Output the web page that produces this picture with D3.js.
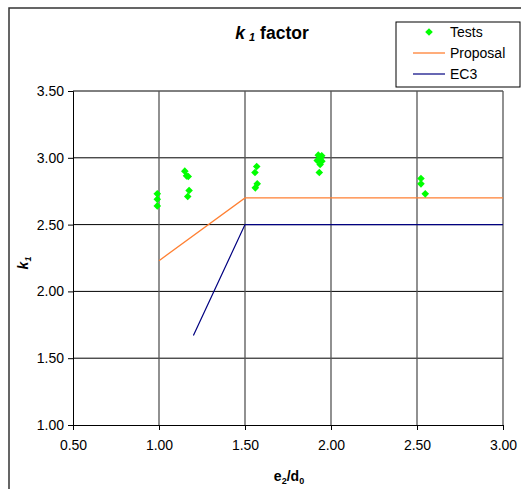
<!DOCTYPE html>
<html>
<head>
	<meta charset="utf-8">
	<script src="https://d3js.org/d3.v7.min.js"></script>
	<style>
		body { margin: 0; background: #fff; }
		text { font-family: "Liberation Sans", Arial, sans-serif; fill: #000; }
	</style>
</head>
<body>
	<div id="chart"></div>
	<script>

	// test results (e2/d0, k1)
	const testX = [0.99, 0.99, 0.99, 1.15, 1.16, 1.17, 1.175, 1.167,
		1.568, 1.558, 1.571, 1.56, 1.926, 1.946, 1.92, 1.947, 1.937, 1.932, 1.94,
		2.523, 2.523, 2.548]
	const testY = [2.73, 2.69, 2.64, 2.90, 2.865, 2.86, 2.755, 2.71,
		2.935, 2.89, 2.805, 2.775, 3.02, 3.015, 2.98, 2.975, 2.95, 2.89, 3.00,
		2.845, 2.805, 2.73]

	// design curves
	const proposalX = [1.0, 1.5, 3.0]
	const proposalY = [2.23, 2.70, 2.70]
	const ec3X = [1.2, 1.5, 3.0]
	const ec3Y = [1.67, 2.50, 2.50]

	const xTicks = [0.5, 1.0, 1.5, 2.0, 2.5, 3.0]
	const yTicks = [1.0, 1.5, 2.0, 2.5, 3.0, 3.5]

	const width = 521
	const height = 489

	const svg = d3.select("#chart")
	  .append("svg")
	    .attr("width", width)
	    .attr("height", height)

	// outer chart frame
	svg.append("rect")
	    .attr("x", 9).attr("y", 8)
	    .attr("width", 530).attr("height", 500)
	    .attr("fill", "none")
	    .attr("stroke", "#333")
	    .attr("stroke-width", 1.5)

	const x = d3.scaleLinear().domain([0.5, 3.0]).range([73, 503])
	const y = d3.scaleLinear().domain([1.0, 3.5]).range([425, 91])

	// gridlines
	svg.append("g")
	  .selectAll("line")
	  .data(yTicks.slice(1))
	  .join("line")
	    .attr("x1", x(0.5)).attr("x2", x(3.0))
	    .attr("y1", d => y(d)).attr("y2", d => y(d))
	    .attr("stroke", "#000")
	svg.append("g")
	  .selectAll("line")
	  .data(xTicks.slice(1))
	  .join("line")
	    .attr("x1", d => x(d)).attr("x2", d => x(d))
	    .attr("y1", y(1.0)).attr("y2", y(3.5))
	    .attr("stroke", "#555")
	    .attr("stroke-width", 1.3)

	// axes
	const xAxis = svg.append("g")
	    .attr("transform", `translate(0,${y(1.0)})`)
	    .call(d3.axisBottom(x).tickValues(xTicks).tickFormat(d3.format(".2f")).tickSize(5).tickPadding(10))
	const yAxis = svg.append("g")
	    .attr("transform", `translate(${x(0.5)},0)`)
	    .call(d3.axisLeft(y).tickValues(yTicks).tickFormat(d3.format(".2f")).tickSize(5).tickPadding(4))
	for (const ax of [xAxis, yAxis]) {
	  ax.select(".domain").attr("stroke", "#000")
	  ax.selectAll(".tick line").attr("stroke", "#000")
	  ax.selectAll(".tick text")
	    .style("font-size", "14px")
	    .style("font-family", "'Liberation Sans', Arial, sans-serif")
	    .attr("fill", "#000")
	}

	// lines
	const line = d3.line().x(d => x(d[0])).y(d => y(d[1]))
	svg.append("path")
	    .datum(d3.zip(proposalX, proposalY))
	    .attr("d", line)
	    .attr("fill", "none")
	    .attr("stroke", "#ff8033")
	    .attr("stroke-width", 1.3)
	svg.append("path")
	    .datum(d3.zip(ec3X, ec3Y))
	    .attr("d", line)
	    .attr("fill", "none")
	    .attr("stroke", "#000080")
	    .attr("stroke-width", 1.2)

	// test points as diamonds
	const diamond = "M0,-3.8L3.8,0L0,3.8L-3.8,0Z"
	svg.append("g")
	  .selectAll("path")
	  .data(d3.zip(testX, testY))
	  .join("path")
	    .attr("d", diamond)
	    .attr("transform", d => `translate(${x(d[0])},${y(d[1])})`)
	    .attr("fill", "#00ff00")

	// title
	const title = svg.append("text")
	    .attr("x", 272).attr("y", 39)
	    .attr("text-anchor", "middle")
	    .style("font-size", "17.5px")
	    .style("font-weight", "bold")
	title.append("tspan").style("font-style", "italic").text("k")
	title.append("tspan").style("font-style", "italic").style("font-size", "11px").attr("dx", 4).attr("dy", 2).text("1")
	title.append("tspan").attr("dx", 5).attr("dy", -2).text("factor")

	// axis titles
	const xl = svg.append("text")
	    .attr("x", 289).attr("y", 481)
	    .attr("text-anchor", "middle")
	    .style("font-size", "14px")
	    .style("font-weight", "bold")
	xl.append("tspan").text("e")
	xl.append("tspan").style("font-size", "9px").attr("dy", 3).text("2")
	xl.append("tspan").attr("dy", -3).text("/d")
	xl.append("tspan").style("font-size", "9px").attr("dy", 3).text("0")

	const yl = svg.append("text")
	    .attr("transform", "translate(28,263) rotate(-90)")
	    .attr("text-anchor", "middle")
	    .style("font-size", "14px")
	    .style("font-weight", "bold")
	    .style("font-style", "italic")
	yl.append("tspan").text("k")
	yl.append("tspan").style("font-size", "9px").attr("dy", 3).text("1")

	// legend
	const legend = svg.append("g")
	legend.append("rect")
	    .attr("x", 396).attr("y", 22)
	    .attr("width", 124).attr("height", 65)
	    .attr("fill", "#fff")
	    .attr("stroke", "#000")
	legend.append("path")
	    .attr("d", diamond)
	    .attr("transform", "translate(429,32)")
	    .attr("fill", "#00ff00")
	legend.append("line")
	    .attr("x1", 413).attr("x2", 445).attr("y1", 53).attr("y2", 53)
	    .attr("stroke", "#ff8033").attr("stroke-width", 1.3)
	legend.append("line")
	    .attr("x1", 413).attr("x2", 445).attr("y1", 74).attr("y2", 74)
	    .attr("stroke", "#000080").attr("stroke-width", 1.2)
	const labels = ["Tests", "Proposal", "EC3"]
	legend.selectAll("text.lg")
	  .data(labels)
	  .join("text")
	    .attr("class", "lg")
	    .attr("x", 450)
	    .attr("y", (d, i) => 37 + i * 21)
	    .style("font-size", "14px")
	    .text(d => d)

	</script>
</body>
</html>
